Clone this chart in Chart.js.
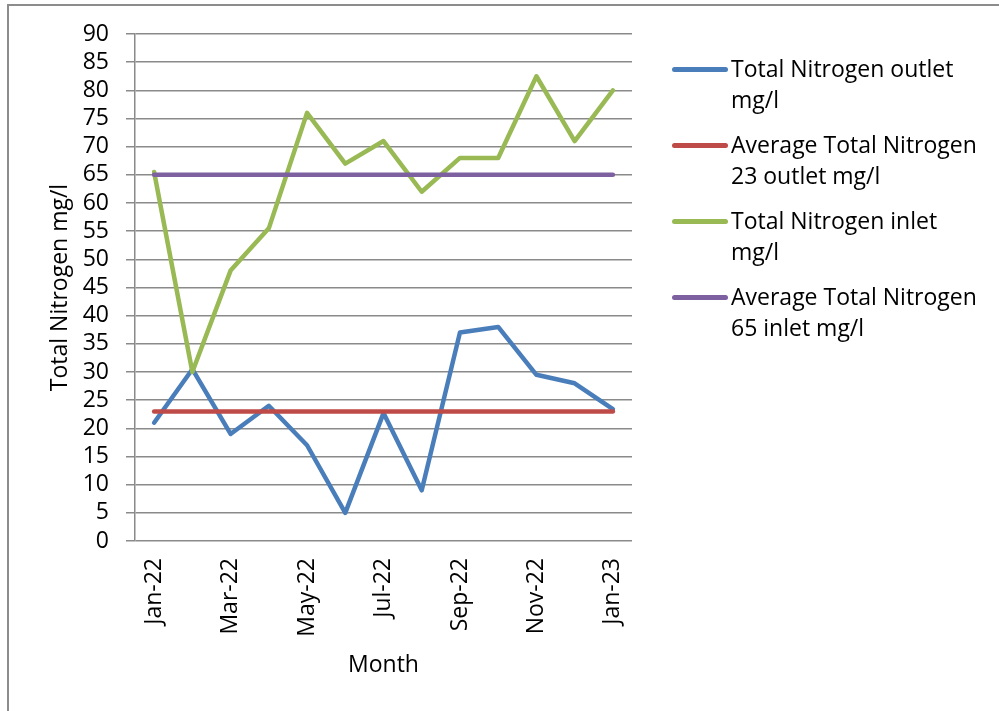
<!DOCTYPE html>
<html>
<head>
<meta charset="utf-8">
<script src="https://cdn.jsdelivr.net/npm/chart.js@4.4.1/dist/chart.umd.min.js"></script>
<style>
  body { margin: 0; background: #fff; font-family: 'Open Sans', sans-serif; }
  #wrap { position: relative; width: 999px; height: 711px; overflow: hidden; }
  #frame { position: absolute; left: 7px; top: 4px; width: 1100px; height: 800px;
           border-left: 2px solid #8c8c8c; border-top: 2px solid #8c8c8c; }
  #chart { position: absolute; left: 0; top: 0; }
  #legend { position: absolute; left: 672px; top: 53px; font-size: 23px; line-height: 31px; color: #000; }
  .item { position: relative; padding-left: 59px; height: 76px; white-space: nowrap; }
  .item .swatch { position: absolute; left: 0; top: 14px; width: 56px; height: 5px; border-radius: 3px; }
</style>
</head>
<body>
<div id="wrap">
  <div id="frame"></div>
  <canvas id="chart" width="999" height="711"></canvas>
  <div id="legend"></div>
</div>
<script>
// Chart data
let months = ['Jan-22', 'Feb-22', 'Mar-22', 'Apr-22', 'May-22', 'Jun-22', 'Jul-22',
              'Aug-22', 'Sep-22', 'Oct-22', 'Nov-22', 'Dec-22', 'Jan-23'];
let outlet = [21, 30.5, 19, 24, 17, 5, 22.7, 9, 37, 38, 29.5, 28, 23.4];
let avgOutlet = [23, 23, 23, 23, 23, 23, 23, 23, 23, 23, 23, 23, 23];
let inlet = [65.5, 30, 48, 55.5, 76, 67, 71, 62, 68, 68, 82.5, 71, 80];
let avgInlet = [65, 65, 65, 65, 65, 65, 65, 65, 65, 65, 65, 65, 65];
let yTicks = [0, 5, 10, 15, 20, 25, 30, 35, 40, 45, 50, 55, 60, 65, 70, 75, 80, 85, 90];
let seriesNames = [
    ['Total Nitrogen outlet', 'mg/l'],
    ['Average Total Nitrogen', '23 outlet mg/l'],
    ['Total Nitrogen inlet', 'mg/l'],
    ['Average Total Nitrogen', '65 inlet mg/l']
];
let colors = ['#4a7ebb', '#be4b48', '#98b954', '#7d60a0'];

let font = { family: "'Open Sans', sans-serif", size: 23 };
let gridColor = '#8a8a8a';

function makeLine(i, data) {
    return {
        label: seriesNames[i].join(' '),
        data: data,
        borderColor: colors[i],
        backgroundColor: colors[i],
        borderWidth: 4.5,
        pointRadius: 0,
        tension: 0,
        fill: false,
        borderCapStyle: 'round',
        borderJoinStyle: 'round',
        order: 3 - i
    };
}

new Chart(document.getElementById('chart').getContext('2d'), {
    type: 'line',
    data: {
        labels: months,
        datasets: [makeLine(0, outlet), makeLine(1, avgOutlet), makeLine(2, inlet), makeLine(3, avgInlet)]
    },
    options: {
        responsive: false,
        devicePixelRatio: 1,
        animation: false,
        layout: { padding: { left: 43, top: 34, right: 367, bottom: 0 } },
        plugins: { legend: { display: false }, tooltip: { enabled: false } },
        scales: {
            x: {
                offset: true,
                grid: { display: false, drawTicks: false },
                border: { display: false },
                ticks: {
                    autoSkip: false,
                    maxRotation: 90,
                    minRotation: 90,
                    padding: 17,
                    color: '#000',
                    font: font,
                    callback: function(value, index) {
                        return index % 2 === 0 ? months[index] : '';
                    }
                },
                title: { display: true, text: 'Month', color: '#000', font: font, padding: { top: 4, bottom: 32 } },
                afterFit: function(scale) { scale.height = 170; }
            },
            y: {
                min: 0,
                max: 90,
                afterBuildTicks: function(scale) {
                    scale.ticks = yTicks.map(v => ({ value: v }));
                },
                ticks: { autoSkip: false, padding: 17, color: '#000', font: font },
                grid: { color: gridColor, lineWidth: 1.5, tickLength: 9, drawTicks: true },
                border: { display: true, color: gridColor, width: 1.5 },
                title: { display: true, text: 'Total Nitrogen mg/l', color: '#000', font: font, padding: { top: 4, bottom: 4 } },
                afterFit: function(scale) { scale.width = 92; }
            }
        }
    }
});

// Legend with wrapped labels
let legend = document.getElementById('legend');
seriesNames.forEach(function(name, i) {
    let item = document.createElement('div');
    item.className = 'item';
    item.innerHTML = '<span class="swatch" style="background:' + colors[i] + '"></span>' +
        name[0] + '<br>' + name[1];
    legend.appendChild(item);
});
</script>
</body>
</html>
